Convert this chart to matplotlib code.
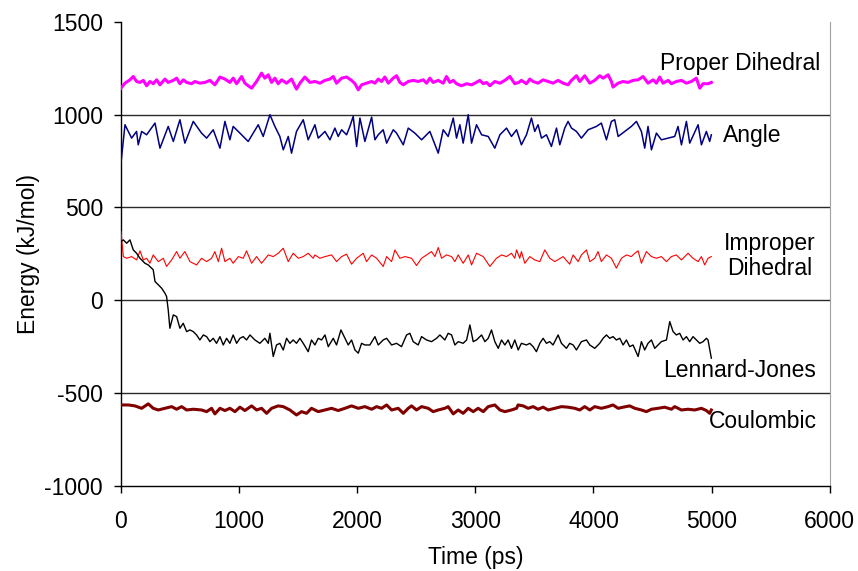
#!/usr/bin/env python3

import matplotlib
matplotlib.use("Agg")
from matplotlib import pyplot as plt

# energy traces (time in ps, energy in kJ/mol)
proper_t = [0, 34, 76, 104, 132, 161, 189, 217, 245, 273, 302, 330, 372, 400, 443, 471, 499, 527,
            556, 598, 626, 668, 711, 753, 795, 838, 880, 922, 950, 979, 1021, 1049, 1077, 1106,
            1148, 1190, 1218, 1247, 1275, 1303, 1331, 1360, 1402, 1444, 1486, 1515, 1557, 1599,
            1642, 1684, 1727, 1769, 1797, 1825, 1868, 1910, 1952, 1981, 2009, 2037, 2079, 2122,
            2150, 2178, 2206, 2234, 2263, 2305, 2333, 2361, 2390, 2432, 2474, 2516, 2559, 2587,
            2615, 2643, 2686, 2728, 2756, 2784, 2813, 2841, 2883, 2926, 2968, 2996, 3038, 3067,
            3095, 3123, 3165, 3208, 3250, 3292, 3334, 3368, 3390, 3433, 3461, 3489, 3531, 3574,
            3616, 3658, 3701, 3743, 3785, 3814, 3856, 3884, 3926, 3969, 4011, 4053, 4082, 4124,
            4152, 4166, 4209, 4251, 4293, 4335, 4378, 4420, 4462, 4505, 4533, 4561, 4589, 4632,
            4660, 4702, 4745, 4787, 4829, 4871, 4900, 4928, 4970, 4998]
proper_e = [1142, 1169, 1187, 1205, 1178, 1173, 1184, 1155, 1178, 1166, 1187, 1160, 1191, 1173,
            1184, 1196, 1166, 1187, 1173, 1166, 1178, 1169, 1173, 1184, 1160, 1202, 1191, 1173,
            1196, 1166, 1205, 1169, 1155, 1142, 1178, 1223, 1196, 1214, 1173, 1196, 1166, 1187,
            1169, 1191, 1137, 1169, 1202, 1173, 1178, 1169, 1184, 1191, 1205, 1169, 1196, 1202,
            1184, 1166, 1133, 1160, 1169, 1178, 1169, 1191, 1178, 1202, 1169, 1196, 1209, 1173,
            1160, 1178, 1184, 1178, 1187, 1169, 1196, 1173, 1184, 1169, 1205, 1173, 1184, 1166,
            1155, 1166, 1160, 1169, 1184, 1166, 1173, 1155, 1178, 1169, 1184, 1205, 1166, 1173,
            1184, 1166, 1191, 1178, 1169, 1187, 1178, 1169, 1184, 1169, 1160, 1184, 1209, 1178,
            1209, 1169, 1184, 1209, 1196, 1214, 1178, 1148, 1169, 1178, 1173, 1184, 1187, 1205,
            1169, 1187, 1169, 1202, 1169, 1184, 1166, 1178, 1184, 1169, 1178, 1196, 1142, 1166,
            1166, 1173]

angle_t = [0, 34, 90, 132, 146, 175, 217, 288, 330, 400, 443, 499, 541, 612, 682, 725, 781, 838,
           880, 922, 950, 1007, 1077, 1162, 1204, 1261, 1303, 1345, 1374, 1416, 1444, 1486, 1543,
           1585, 1642, 1670, 1727, 1769, 1811, 1839, 1868, 1910, 1938, 1966, 1995, 2023, 2065,
           2122, 2150, 2178, 2220, 2249, 2305, 2333, 2390, 2432, 2488, 2545, 2615, 2686, 2728,
           2770, 2813, 2841, 2869, 2897, 2940, 2968, 3010, 3053, 3109, 3165, 3208, 3264, 3306,
           3349, 3390, 3433, 3475, 3503, 3531, 3560, 3602, 3644, 3687, 3715, 3757, 3785, 3814,
           3856, 3898, 3955, 4025, 4067, 4110, 4152, 4180, 4209, 4265, 4321, 4364, 4406, 4434,
           4462, 4491, 4533, 4575, 4632, 4688, 4716, 4745, 4787, 4815, 4886, 4914, 4956, 4984,
           4998]
angle_e = [740, 945, 873, 909, 837, 909, 891, 954, 819, 936, 855, 972, 846, 963, 900, 873, 918,
           819, 963, 864, 936, 900, 855, 945, 882, 999, 936, 882, 810, 882, 792, 909, 972, 864,
           945, 873, 909, 864, 927, 882, 918, 891, 936, 990, 828, 981, 855, 986, 864, 891, 918,
           846, 918, 900, 837, 927, 900, 864, 909, 792, 918, 882, 981, 873, 945, 846, 999, 846,
           945, 891, 882, 819, 891, 927, 882, 918, 837, 891, 981, 909, 945, 873, 891, 828, 927,
           837, 927, 963, 927, 909, 873, 918, 936, 954, 864, 963, 972, 882, 909, 936, 963, 909,
           819, 936, 810, 900, 864, 873, 882, 936, 837, 963, 846, 945, 837, 909, 855, 891]

improper_t = [0, 20, 48, 90, 132, 161, 189, 217, 245, 273, 316, 358, 386, 429, 471, 499, 541, 584,
              640, 682, 725, 767, 795, 824, 852, 880, 922, 950, 993, 1035, 1063, 1106, 1148, 1190,
              1247, 1289, 1331, 1374, 1416, 1458, 1501, 1543, 1585, 1627, 1642, 1684, 1727, 1783,
              1825, 1868, 1910, 1952, 1995, 2051, 2079, 2122, 2164, 2220, 2249, 2291, 2319, 2361,
              2404, 2460, 2502, 2545, 2587, 2629, 2658, 2686, 2714, 2756, 2799, 2827, 2855, 2897,
              2940, 2968, 3010, 3067, 3123, 3179, 3222, 3264, 3306, 3334, 3349, 3376, 3390, 3419,
              3461, 3503, 3546, 3588, 3630, 3673, 3743, 3799, 3828, 3870, 3898, 3941, 3969, 4011,
              4039, 4067, 4110, 4152, 4194, 4237, 4279, 4321, 4350, 4378, 4406, 4448, 4491, 4533,
              4575, 4618, 4660, 4702, 4745, 4801, 4843, 4886, 4914, 4942, 4970, 4998]
improper_e = [370, 235, 226, 235, 217, 266, 217, 226, 199, 244, 208, 226, 182, 217, 262, 226,
              262, 208, 190, 226, 208, 226, 262, 208, 280, 208, 226, 199, 235, 226, 266, 199,
              235, 199, 244, 235, 253, 280, 208, 253, 226, 235, 253, 226, 244, 226, 235, 244,
              208, 235, 248, 194, 226, 253, 208, 244, 226, 182, 235, 208, 271, 226, 235, 226,
              187, 226, 244, 262, 235, 284, 226, 244, 235, 208, 244, 199, 244, 190, 253, 235,
              182, 226, 244, 235, 253, 226, 271, 226, 262, 199, 235, 217, 208, 271, 226, 208,
              235, 194, 244, 208, 244, 271, 208, 226, 262, 208, 244, 226, 173, 226, 244, 235,
              253, 266, 199, 262, 235, 226, 235, 208, 235, 244, 217, 253, 226, 208, 235, 190,
              226, 235]

lj_t = [0, 20, 48, 76, 104, 132, 161, 203, 231, 273, 288, 316, 344, 372, 386, 400, 414, 443, 471,
        499, 527, 556, 584, 612, 640, 668, 697, 725, 753, 781, 809, 838, 866, 894, 922, 950, 979,
        1007, 1035, 1063, 1092, 1134, 1176, 1218, 1247, 1261, 1289, 1317, 1345, 1374, 1402, 1430,
        1458, 1486, 1515, 1543, 1585, 1613, 1642, 1670, 1698, 1727, 1755, 1797, 1825, 1862, 1896,
        1924, 1952, 1981, 2009, 2037, 2065, 2107, 2150, 2178, 2220, 2249, 2291, 2333, 2375, 2418,
        2446, 2474, 2516, 2545, 2587, 2629, 2672, 2700, 2742, 2770, 2799, 2827, 2855, 2897, 2926,
        2954, 2982, 3010, 3053, 3081, 3109, 3137, 3165, 3194, 3222, 3250, 3278, 3306, 3334, 3363,
        3390, 3433, 3461, 3489, 3517, 3546, 3574, 3602, 3630, 3658, 3687, 3701, 3729, 3771, 3799,
        3828, 3856, 3898, 3941, 3969, 4011, 4053, 4082, 4110, 4138, 4166, 4194, 4223, 4251, 4279,
        4307, 4335, 4378, 4406, 4434, 4462, 4491, 4519, 4547, 4575, 4618, 4646, 4674, 4702, 4730,
        4759, 4787, 4815, 4843, 4871, 4900, 4928, 4956, 4970, 4998]
lj_e = [316, 325, 307, 325, 271, 253, 226, 199, 190, 164, 101, 83, 65, 38, 20, -52, -151, -79,
        -88, -151, -124, -169, -160, -169, -187, -214, -187, -196, -223, -205, -232, -196, -241,
        -205, -232, -187, -232, -205, -196, -214, -187, -214, -232, -205, -232, -178, -303, -241,
        -232, -268, -205, -232, -214, -232, -205, -232, -277, -214, -241, -205, -214, -187, -250,
        -205, -241, -160, -205, -241, -214, -268, -285, -232, -241, -241, -196, -241, -214, -205,
        -241, -232, -250, -187, -178, -223, -241, -196, -214, -223, -205, -187, -214, -178, -187,
        -241, -223, -232, -214, -133, -223, -214, -187, -223, -205, -160, -223, -259, -214, -241,
        -214, -259, -214, -268, -232, -241, -232, -250, -277, -232, -205, -232, -223, -241, -205,
        -187, -232, -259, -232, -241, -268, -223, -214, -241, -259, -232, -205, -187, -205, -196,
        -214, -205, -241, -214, -250, -241, -303, -223, -268, -232, -214, -259, -241, -223, -214,
        -115, -169, -187, -178, -214, -196, -223, -196, -214, -232, -223, -205, -214, -312]

coul_t = [0, 62, 118, 175, 231, 273, 316, 372, 429, 471, 513, 556, 612, 682, 725, 767, 795, 838,
          880, 922, 965, 1007, 1049, 1106, 1148, 1190, 1233, 1275, 1331, 1374, 1430, 1486, 1529,
          1571, 1613, 1670, 1727, 1783, 1839, 1896, 1952, 2009, 2065, 2122, 2164, 2206, 2249,
          2291, 2347, 2390, 2432, 2460, 2502, 2545, 2601, 2643, 2686, 2742, 2770, 2813, 2855,
          2897, 2940, 2982, 3024, 3067, 3109, 3165, 3208, 3250, 3306, 3349, 3362, 3405, 3447,
          3489, 3531, 3574, 3616, 3673, 3729, 3785, 3842, 3884, 3926, 3969, 4011, 4067, 4124,
          4166, 4209, 4251, 4307, 4350, 4406, 4448, 4491, 4547, 4603, 4660, 4688, 4745, 4801,
          4857, 4914, 4956, 4984, 4998]
coul_e = [-564, -564, -569, -582, -558, -582, -591, -582, -573, -587, -573, -591, -587, -591,
          -600, -582, -612, -582, -594, -582, -600, -576, -594, -569, -591, -582, -609, -582,
          -569, -573, -591, -618, -600, -609, -582, -600, -591, -582, -594, -582, -569, -582,
          -573, -587, -573, -582, -564, -591, -582, -609, -582, -569, -591, -573, -582, -600,
          -591, -582, -573, -612, -591, -609, -582, -600, -582, -600, -573, -564, -591, -600,
          -591, -582, -564, -569, -582, -573, -587, -576, -591, -582, -573, -576, -582, -591,
          -573, -591, -573, -582, -573, -564, -582, -576, -569, -582, -591, -600, -587, -582,
          -576, -587, -573, -591, -587, -591, -582, -594, -609, -591]

series_labels = ["Proper Dihedral", "Angle", "Improper\nDihedral", "Lennard-Jones", "Coulombic"]
y_ticks = [-1000, -500, 0, 500, 1000, 1500]
x_ticks = [0, 1000, 2000, 3000, 4000, 5000, 6000]


def main():
  plt.rcParams["font.family"] = ["Liberation Sans", "DejaVu Sans"]
  plt.rcParams["font.size"] = 16.5
  plt.rcParams["axes.unicode_minus"] = False

  fig = plt.figure(figsize=(8.58, 5.71), dpi=100)
  ax = fig.add_axes([0.141, 0.149, 0.826, 0.813])

  # horizontal grid lines behind the traces
  for y in y_ticks[1:-1]:
    ax.axhline(y, color="#2a2a2a", lw=1.0, zorder=1)

  ax.plot(proper_t, proper_e, color="#ff00ff", lw=2.2, zorder=3)
  ax.plot(angle_t, angle_e, color="#000080", lw=1.1, zorder=3)
  ax.plot(improper_t, improper_e, color="#ff0000", lw=0.8, zorder=3)
  ax.plot(lj_t, lj_e, color="black", lw=1.0, zorder=3)
  ax.plot(coul_t, coul_e, color="#800000", lw=2.2, zorder=3)

  # series names written next to the right end of each trace
  ax.text(5238, 1274, series_labels[0], ha="center", va="center")
  ax.text(5340, 886, series_labels[1], ha="center", va="center")
  ax.text(5492, 239, series_labels[2], ha="center", va="center", linespacing=1.1)
  ax.text(5238, -380, series_labels[3], ha="center", va="center")
  ax.text(5433, -655, series_labels[4], ha="center", va="center")

  ax.set_xlim(0, 6000)
  ax.set_ylim(-1000, 1500)
  ax.set_xticks(x_ticks)
  ax.set_yticks(y_ticks)
  ax.tick_params(direction="out", length=5, width=1)
  ax.tick_params(axis="x", pad=12)
  ax.tick_params(axis="y", pad=8)

  ax.spines["top"].set_visible(False)
  ax.spines["right"].set_color("#a0a0a0")
  ax.spines["left"].set_linewidth(1)
  ax.spines["bottom"].set_linewidth(1)

  ax.set_xlabel("Time (ps)", labelpad=10)
  ax.set_ylabel("Energy (kJ/mol)", labelpad=3)

  fig.savefig("out.png", dpi=100)


if __name__ == "__main__":
  main()
